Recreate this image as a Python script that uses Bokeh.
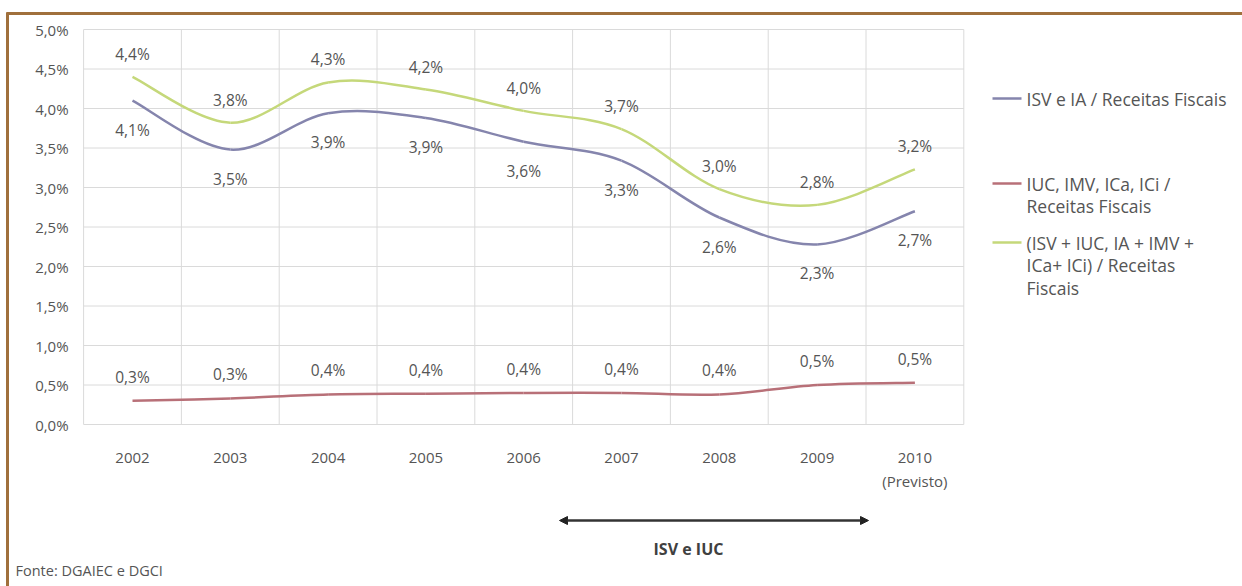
from bokeh.plotting import figure
from bokeh.models import (FixedTicker, Label, Arrow, NormalHead, ColumnDataSource, Range1d)
from bokeh.core.properties import value
from bokeh.embed import file_html
from bokeh.resources import INLINE

# ---------------- data ----------------
years = ["2002", "2003", "2004", "2005", "2006", "2007", "2008", "2009", "2010\n(Previsto)"]
isv_ia = [4.10, 3.48, 3.94, 3.88, 3.58, 3.34, 2.62, 2.28, 2.70]
iuc_imv = [0.30, 0.33, 0.38, 0.39, 0.40, 0.40, 0.38, 0.50, 0.53]
total = [4.40, 3.82, 4.33, 4.24, 3.97, 3.74, 2.98, 2.78, 3.23]
y_ticks = [0.0, 0.5, 1.0, 1.5, 2.0, 2.5, 3.0, 3.5, 4.0, 4.5, 5.0]
y_tick_labels = ["0,0%", "0,5%", "1,0%", "1,5%", "2,0%", "2,5%", "3,0%", "3,5%", "4,0%", "4,5%", "5,0%"]
series_names = [
    ["ISV e IA / Receitas Fiscais"],
    ["IUC, IMV, ICa, ICi /", "Receitas Fiscais"],
    ["(ISV + IUC,  IA + IMV +", "ICa+ ICi) / Receitas", "Fiscais"],
]
source_text = "Fonte: DGAIEC e DGCI"
period_text = "ISV e IUC"

# ---------------- styling ----------------
FONT = "Open Sans"
TXT = "#555555"
C_ISV = "#8585ad"
C_IUC = "#b87078"
C_TOT = "#c5d87a"
C_GRID = "#dadada"
BROWN = "#a0703c"
W, H = 1242, 586
# pixel placement of the plotting area: category 0 at x=132, 97.8 px per category,
# 0 % at y=424, 79 px per percentage point
PX0, PXS, PY0, PYS = 132.0, 97.8, 424.0, 79.0

xs = list(range(len(years)))
n = len(years)


def px2x(px):
    return (px - PX0) / PXS


def py2y(py):
    return (PY0 - py) / PYS


p = figure(width=W, height=H, output_backend="svg", toolbar_location=None,
           x_range=Range1d(px2x(0), px2x(W)), y_range=Range1d(py2y(H), py2y(0)),
           min_border=0, min_border_left=0, min_border_right=0,
           min_border_top=0, min_border_bottom=0)
p.background_fill_color = "white"
p.border_fill_color = "white"
p.outline_line_color = None
p.grid.visible = False

# axes drawn at fixed locations inside the canvas
p.xaxis.fixed_location = 0
p.xaxis.bounds = (-0.5, n - 0.5)
p.yaxis.fixed_location = -0.5
p.yaxis.bounds = (0, 5)
p.xaxis.ticker = FixedTicker(ticks=xs)
p.xaxis.major_label_overrides = {i: lab for i, lab in enumerate(years)}
p.yaxis.ticker = FixedTicker(ticks=y_ticks)
p.yaxis.major_label_overrides = {t: lab for t, lab in zip(y_ticks, y_tick_labels)}
for ax in (p.xaxis, p.yaxis):
    ax.axis_line_color = None
    ax.major_tick_line_color = None
    ax.minor_tick_line_color = None
    ax.major_label_text_font = FONT
    ax.major_label_text_font_size = "15px"
    ax.major_label_text_color = TXT
p.xaxis.major_label_standoff = 16
p.yaxis.major_label_standoff = 9

# grid of the plotting area
x_bounds = [i - 0.5 for i in range(n + 1)]
p.segment(x0=x_bounds, y0=[0] * len(x_bounds), x1=x_bounds, y1=[5] * len(x_bounds),
          line_color=C_GRID, line_width=1)
p.segment(x0=[-0.5] * len(y_ticks), y0=y_ticks, x1=[n - 0.5] * len(y_ticks), y1=y_ticks,
          line_color=C_GRID, line_width=1)


def smooth_segments(xv, yv):
    # Bezier segments (Excel-like smoothing) between consecutive data points
    m = len(xv)
    x0, y0, x1, y1, cx0, cy0, cx1, cy1 = ([] for _ in range(8))
    for i in range(m - 1):
        pa = (xv[max(i - 1, 0)], yv[max(i - 1, 0)])
        pb = (xv[i], yv[i])
        pc = (xv[i + 1], yv[i + 1])
        pd = (xv[min(i + 2, m - 1)], yv[min(i + 2, m - 1)])
        x0.append(pb[0]); y0.append(pb[1]); x1.append(pc[0]); y1.append(pc[1])
        cx0.append(pb[0] + (pc[0] - pa[0]) / 6.0); cy0.append(pb[1] + (pc[1] - pa[1]) / 6.0)
        cx1.append(pc[0] - (pd[0] - pb[0]) / 6.0); cy1.append(pc[1] - (pd[1] - pb[1]) / 6.0)
    return dict(x0=x0, y0=y0, x1=x1, y1=y1, cx0=cx0, cy0=cy0, cx1=cx1, cy1=cy1)


def fmt(v):
    return f"{v:.1f}".replace(".", ",") + "%"


for vals, col, off in ((iuc_imv, C_IUC, -24), (isv_ia, C_ISV, 29), (total, C_TOT, -23)):
    src = ColumnDataSource(smooth_segments(xs, vals))
    p.bezier(x0="x0", y0="y0", x1="x1", y1="y1", cx0="cx0", cy0="cy0", cx1="cx1", cy1="cy1",
             source=src, line_color=col, line_width=2.5)
    p.text(x=xs, y=vals, text=[fmt(v) for v in vals], y_offset=off,
           text_align="center", text_baseline="middle", text_font=value(FONT),
           text_font_size="15.5px", text_color=TXT)

# ---------------- legend (manual, to allow wrapped labels) ----------------
legend_rows = [(C_ISV, [98]), (C_IUC, [183, 205]), (C_TOT, [242, 264, 287])]
for (col, rows), names in zip(legend_rows, series_names):
    p.add_layout(Arrow(start=None, end=None, x_start=px2x(992), x_end=px2x(1021),
                       y_start=py2y(rows[0]), y_end=py2y(rows[0]),
                       line_color=col, line_width=2.5))
    for row, name in zip(rows, names):
        p.add_layout(Label(x=px2x(1026), y=py2y(row), text=name, text_font=FONT,
                           text_font_size="17.5px", text_color=TXT, text_baseline="middle"))

# period arrow and notes
head = dict(size=8, fill_color="#222222", line_color="#222222")
p.add_layout(Arrow(start=NormalHead(**head), end=NormalHead(**head),
                   x_start=px2x(559), x_end=px2x(868), y_start=py2y(520), y_end=py2y(520),
                   line_color="#333333", line_width=2.5))
p.add_layout(Label(x=px2x(688), y=py2y(548), text=period_text, text_font=FONT,
                   text_font_size="16px", text_font_style="bold", text_color="#404040",
                   text_align="center", text_baseline="middle"))
p.add_layout(Label(x=px2x(15), y=py2y(570), text=source_text, text_font=FONT,
                   text_font_size="14.5px", text_color=TXT, text_baseline="middle"))

# brown frame lines
p.add_layout(Arrow(start=None, end=None, x_start=px2x(6), x_end=px2x(W + 5),
                   y_start=py2y(13), y_end=py2y(13), line_color=BROWN, line_width=3))
p.add_layout(Arrow(start=None, end=None, x_start=px2x(7), x_end=px2x(7),
                   y_start=py2y(12), y_end=py2y(H + 5), line_color=BROWN, line_width=3))

open("out.html", "w").write(file_html(p, INLINE))
